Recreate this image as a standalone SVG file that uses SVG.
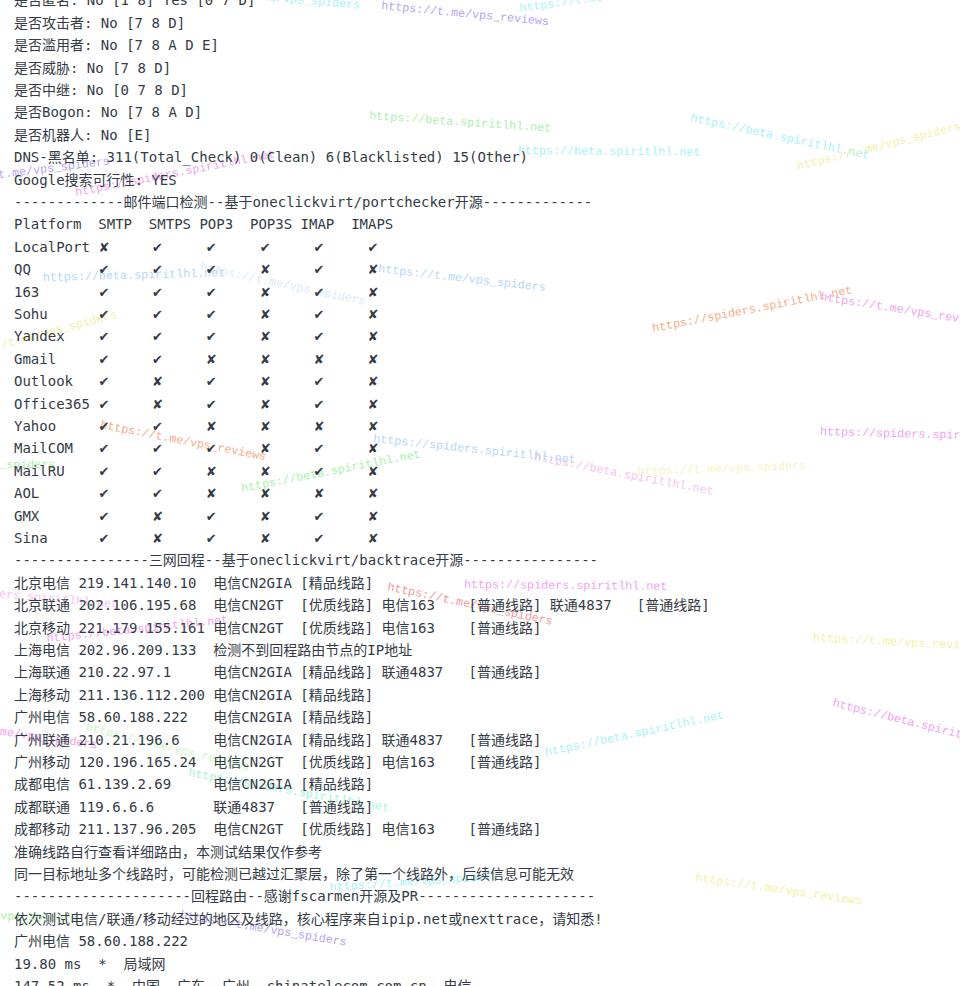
<svg xmlns="http://www.w3.org/2000/svg" width="960" height="986" viewBox="0 0 960 986">
<style>
.t{font-family:"DejaVu Sans Mono","Noto Sans CJK SC",monospace;font-size:14px;fill:#343b46;white-space:pre}
.m{font-family:"DejaVu Sans","Noto Sans CJK SC",sans-serif;font-size:13px;fill:#343b46;text-anchor:middle}
.w{font-family:"Liberation Mono","DejaVu Sans Mono",monospace;font-size:11.7px;white-space:pre}
.cy{fill:#a6f2f7}.pu{fill:#b7a3ee}.gr{fill:#a9f0a9}.mg{fill:#f2a2ef}.or{fill:#f6ab86}.ye{fill:#f4efa6}.lb{fill:#b5d7f7}.rd{fill:#ee9a9a}.pk{fill:#f7c4ee}.tl{fill:#a9f2dc}
</style>
<rect width="960" height="986" fill="#ffffff"/>
<g id="watermarks">
<text class="w cy" transform="translate(192,-6) rotate(5)">https://t.me/vps_spiders</text>
<text class="w pu" transform="translate(381,9) rotate(5.5)">https://t.me/vps_reviews</text>
<text class="w cy" transform="translate(520,12) rotate(-8)">https://t.me/vps_spiders</text>
<text class="w gr" transform="translate(369,119) rotate(4)">https://beta.spiritlhl.net</text>
<text class="w cy" transform="translate(518,154) rotate(0.5)">https://beta.spiritlhl.net</text>
<text class="w cy" transform="translate(690,121) rotate(12)">https://beta.spiritlhl.net</text>
<text class="w ye" transform="translate(798,170) rotate(-14)">https://t.me/vps_spiders</text>
<text class="w pu" transform="translate(-57,185) rotate(-7)">https://t.me/vps_spiders</text>
<text class="w mg" transform="translate(76,196) rotate(-11)">https://spiders.spiritlhl.net</text>
<text class="w lb" transform="translate(43,281) rotate(-1.5)">https://beta.spiritlhl.net</text>
<text class="w lb" transform="translate(200,270) rotate(12)" opacity="0.5">https://t.me/vps_spiders</text>
<text class="w lb" transform="translate(378,272) rotate(6.5)">https://t.me/vps_spiders</text>
<text class="w ye" transform="translate(-45,361) rotate(-15)">https://t.me/vps_spiders</text>
<text class="w or" transform="translate(653,332) rotate(-11)">https://spiders.spiritlhl.net</text>
<text class="w mg" transform="translate(820,300) rotate(9)">https://t.me/vps_reviews</text>
<text class="w mg" transform="translate(820,435) rotate(1.5)">https://spiders.spiritlhl.net</text>
<text class="w ye" transform="translate(638,475) rotate(-2)" opacity="0.7">https://t.me/vps_spiders</text>
<text class="w pk" transform="translate(534,460) rotate(11)">https://beta.spiritlhl.net</text>
<text class="w or" transform="translate(100,428) rotate(11)">https://t.me/vps_reviews</text>
<text class="w lb" transform="translate(373,442) rotate(6)">https://spiders.spiritlhl.net</text>
<text class="w gr" transform="translate(242,492) rotate(-11)">https://beta.spiritlhl.net</text>
<text class="w gr" transform="translate(-113,468) rotate(0)">https://t.me/vps_spiders</text>
<text class="w rd" transform="translate(387,590) rotate(12)">https://t.me/vps_spiders</text>
<text class="w mg" transform="translate(464,588) rotate(0.5)">https://spiders.spiritlhl.net</text>
<text class="w pk" transform="translate(-85,590) rotate(5)">https://spiders.spiritlhl.net</text>
<text class="w mg" transform="translate(47,642) rotate(-6)">https://beta.spiritlhl.net</text>
<text class="w ye" transform="translate(813,641) rotate(3)">https://t.me/vps_reviews</text>
<text class="w mg" transform="translate(832,706) rotate(14)">https://beta.spiritlhl.net</text>
<text class="w cy" transform="translate(546,756) rotate(-12)">https://beta.spiritlhl.net</text>
<text class="w mg" transform="translate(-70,725) rotate(8)">https://t.me/vps_spiders</text>
<text class="w gr" transform="translate(85,730) rotate(14)" opacity="0.6">https://t.me/vps_reviews</text>
<text class="w tl" transform="translate(188,776) rotate(10)">https://spiders.spiritlhl.net</text>
<text class="w cy" transform="translate(330,891) rotate(-4)">https://t.me/vps_spiders</text>
<text class="w ye" transform="translate(695,881) rotate(8)">https://t.me/vps_reviews</text>
<text class="w pu" transform="translate(180,918) rotate(9.5)">https://t.me/vps_spiders</text>
<text class="w gr" transform="translate(-91,916) rotate(2)">https://t.me/vps_spiders</text>
</g>
<g id="info">
<text class="t" x="14" y="5.3" xml:space="preserve">是否匿名: No [1 8] Yes [0 7 D]</text>
<text class="t" x="14" y="27.7" xml:space="preserve">是否攻击者: No [7 8 D]</text>
<text class="t" x="14" y="50.1" xml:space="preserve">是否滥用者: No [7 8 A D E]</text>
<text class="t" x="14" y="72.5" xml:space="preserve">是否威胁: No [7 8 D]</text>
<text class="t" x="14" y="94.9" xml:space="preserve">是否中继: No [0 7 8 D]</text>
<text class="t" x="14" y="117.3" xml:space="preserve">是否Bogon: No [7 8 A D]</text>
<text class="t" x="14" y="139.7" xml:space="preserve">是否机器人: No [E]</text>
<text class="t" x="14" y="162.1" xml:space="preserve">DNS-黑名单: 311(Total_Check) 0(Clean) 6(Blacklisted) 15(Other)</text>
<text class="t" x="14" y="184.5" xml:space="preserve">Google搜索可行性: YES</text>
<text class="t" x="14" y="206.9" xml:space="preserve">-------------邮件端口检测--基于oneclickvirt/portchecker开源-------------</text>
</g>
<g id="mail-table">
<text class="t" x="14" y="229.3" xml:space="preserve">Platform  SMTP  SMTPS POP3  POP3S IMAP  IMAPS</text>
<text class="t" x="14" y="251.7">LocalPort</text>
<text class="t" x="14" y="274.1">QQ</text>
<text class="t" x="14" y="296.5">163</text>
<text class="t" x="14" y="318.9">Sohu</text>
<text class="t" x="14" y="341.3">Yandex</text>
<text class="t" x="14" y="363.7">Gmail</text>
<text class="t" x="14" y="386.1">Outlook</text>
<text class="t" x="14" y="408.5">Office365</text>
<text class="t" x="14" y="430.9">Yahoo</text>
<text class="t" x="14" y="453.3">MailCOM</text>
<text class="t" x="14" y="475.7">MailRU</text>
<text class="t" x="14" y="498.1">AOL</text>
<text class="t" x="14" y="520.5">GMX</text>
<text class="t" x="14" y="542.9">Sina</text>
<text class="m" y="251.7"><tspan x="104">✘</tspan><tspan x="157.5">✔</tspan><tspan x="211.3">✔</tspan><tspan x="265.2">✔</tspan><tspan x="319">✔</tspan><tspan x="372.9">✔</tspan></text>
<text class="m" y="274.1"><tspan x="104">✔</tspan><tspan x="157.5">✔</tspan><tspan x="211.3">✔</tspan><tspan x="265.2">✘</tspan><tspan x="319">✔</tspan><tspan x="372.9">✘</tspan></text>
<text class="m" y="296.5"><tspan x="104">✔</tspan><tspan x="157.5">✔</tspan><tspan x="211.3">✔</tspan><tspan x="265.2">✘</tspan><tspan x="319">✔</tspan><tspan x="372.9">✘</tspan></text>
<text class="m" y="318.9"><tspan x="104">✔</tspan><tspan x="157.5">✔</tspan><tspan x="211.3">✔</tspan><tspan x="265.2">✘</tspan><tspan x="319">✔</tspan><tspan x="372.9">✘</tspan></text>
<text class="m" y="341.3"><tspan x="104">✔</tspan><tspan x="157.5">✔</tspan><tspan x="211.3">✔</tspan><tspan x="265.2">✘</tspan><tspan x="319">✔</tspan><tspan x="372.9">✘</tspan></text>
<text class="m" y="363.7"><tspan x="104">✔</tspan><tspan x="157.5">✔</tspan><tspan x="211.3">✘</tspan><tspan x="265.2">✘</tspan><tspan x="319">✘</tspan><tspan x="372.9">✘</tspan></text>
<text class="m" y="386.1"><tspan x="104">✔</tspan><tspan x="157.5">✘</tspan><tspan x="211.3">✔</tspan><tspan x="265.2">✘</tspan><tspan x="319">✔</tspan><tspan x="372.9">✘</tspan></text>
<text class="m" y="408.5"><tspan x="104">✔</tspan><tspan x="157.5">✘</tspan><tspan x="211.3">✔</tspan><tspan x="265.2">✘</tspan><tspan x="319">✔</tspan><tspan x="372.9">✘</tspan></text>
<text class="m" y="430.9"><tspan x="104">✔</tspan><tspan x="157.5">✔</tspan><tspan x="211.3">✘</tspan><tspan x="265.2">✘</tspan><tspan x="319">✘</tspan><tspan x="372.9">✘</tspan></text>
<text class="m" y="453.3"><tspan x="104">✔</tspan><tspan x="157.5">✔</tspan><tspan x="211.3">✔</tspan><tspan x="265.2">✘</tspan><tspan x="319">✔</tspan><tspan x="372.9">✘</tspan></text>
<text class="m" y="475.7"><tspan x="104">✔</tspan><tspan x="157.5">✔</tspan><tspan x="211.3">✘</tspan><tspan x="265.2">✘</tspan><tspan x="319">✔</tspan><tspan x="372.9">✘</tspan></text>
<text class="m" y="498.1"><tspan x="104">✔</tspan><tspan x="157.5">✔</tspan><tspan x="211.3">✘</tspan><tspan x="265.2">✘</tspan><tspan x="319">✘</tspan><tspan x="372.9">✘</tspan></text>
<text class="m" y="520.5"><tspan x="104">✔</tspan><tspan x="157.5">✘</tspan><tspan x="211.3">✔</tspan><tspan x="265.2">✘</tspan><tspan x="319">✔</tspan><tspan x="372.9">✘</tspan></text>
<text class="m" y="542.9"><tspan x="104">✔</tspan><tspan x="157.5">✘</tspan><tspan x="211.3">✔</tspan><tspan x="265.2">✘</tspan><tspan x="319">✔</tspan><tspan x="372.9">✘</tspan></text>
</g>
<g id="backtrace">
<text class="t" x="14" y="565.3" xml:space="preserve">----------------三网回程--基于oneclickvirt/backtrace开源----------------</text>
<text class="t" x="14" y="587.7" xml:space="preserve">北京电信 219.141.140.10  电信CN2GIA [精品线路]</text>
<text class="t" x="14" y="610.1" xml:space="preserve">北京联通 202.106.195.68  电信CN2GT  [优质线路] 电信163    [普通线路] 联通4837   [普通线路]</text>
<text class="t" x="14" y="632.5" xml:space="preserve">北京移动 221.179.155.161 电信CN2GT  [优质线路] 电信163    [普通线路]</text>
<text class="t" x="14" y="654.9" xml:space="preserve">上海电信 202.96.209.133  检测不到回程路由节点的IP地址</text>
<text class="t" x="14" y="677.3" xml:space="preserve">上海联通 210.22.97.1     电信CN2GIA [精品线路] 联通4837   [普通线路]</text>
<text class="t" x="14" y="699.7" xml:space="preserve">上海移动 211.136.112.200 电信CN2GIA [精品线路]</text>
<text class="t" x="14" y="722.1" xml:space="preserve">广州电信 58.60.188.222   电信CN2GIA [精品线路]</text>
<text class="t" x="14" y="744.5" xml:space="preserve">广州联通 210.21.196.6    电信CN2GIA [精品线路] 联通4837   [普通线路]</text>
<text class="t" x="14" y="766.9" xml:space="preserve">广州移动 120.196.165.24  电信CN2GT  [优质线路] 电信163    [普通线路]</text>
<text class="t" x="14" y="789.3" xml:space="preserve">成都电信 61.139.2.69     电信CN2GIA [精品线路]</text>
<text class="t" x="14" y="811.7" xml:space="preserve">成都联通 119.6.6.6       联通4837   [普通线路]</text>
<text class="t" x="14" y="834.1" xml:space="preserve">成都移动 211.137.96.205  电信CN2GT  [优质线路] 电信163    [普通线路]</text>
<text class="t" x="14" y="856.5" xml:space="preserve">准确线路自行查看详细路由，本测试结果仅作参考</text>
<text class="t" x="14" y="878.9" xml:space="preserve">同一目标地址多个线路时，可能检测已越过汇聚层，除了第一个线路外，后续信息可能无效</text>
</g>
<g id="route">
<text class="t" x="14" y="901.3" xml:space="preserve">---------------------回程路由--感谢fscarmen开源及PR---------------------</text>
<text class="t" x="14" y="923.7" xml:space="preserve">依次测试电信/联通/移动经过的地区及线路，核心程序来自ipip.net或nexttrace，请知悉!</text>
<text class="t" x="14" y="946.1" xml:space="preserve">广州电信 58.60.188.222</text>
<text class="t" x="14" y="968.5" xml:space="preserve">19.80 ms  *  局域网</text>
<text class="t" x="14" y="990.9" xml:space="preserve">147.52 ms  *  中国, 广东, 广州, chinatelecom.com.cn, 电信</text>
</g>
</svg>
